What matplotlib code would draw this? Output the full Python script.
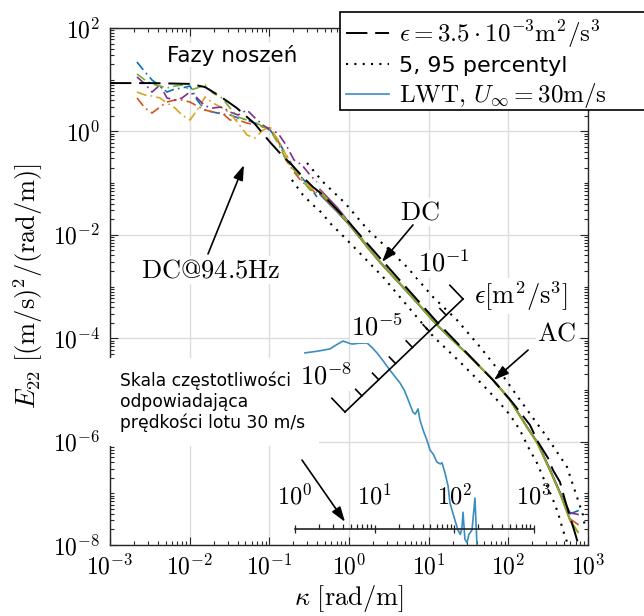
import numpy as np
import matplotlib
matplotlib.use("Agg")
import matplotlib.pyplot as plt
from matplotlib.patches import Rectangle
from matplotlib.ticker import FixedLocator, FuncFormatter, NullFormatter

plt.rcParams['mathtext.fontset'] = 'cm'
plt.rcParams['font.family'] = ['DejaVu Sans']
plt.rcParams['axes.unicode_minus'] = True

# ---------------- data ----------------
# model spectrum, eps = 3.5e-3
k_model = [1.0e-3, 3.18e-3, 0.0101, 0.0156, 0.024, 0.039, 0.066, 0.102, 0.136, 0.192,
           0.264, 0.353, 0.472, 0.944, 1.68, 2.45, 12.7, 64.1, 114, 187, 236, 315, 363,
           445, 514, 594, 687, 793]
E_model = [8.6, 8.6, 8.3, 7.2, 4.8, 2.84, 1.39, 0.62, 0.38, 0.224,
           0.131, 0.084, 0.059, 0.0193, 6.9e-3, 3.56e-3, 2.06e-4, 1.55e-5, 5.58e-6, 2.09e-6,
           9.8e-7, 4.8e-7, 2.82e-7, 1.65e-7, 7.4e-8, 3.5e-8, 1.7e-8, 8e-9]

# 5 / 95 percentile
k_p95 = [0.297, 0.472, 0.891, 1.73, 3.00, 5.35, 11.3, 22.6, 44.1, 85.7, 140, 204, 305,
         408, 545, 648, 749, 865, 917]
E_p95 = [0.245, 0.105, 0.0412, 0.0124, 5.6e-3, 2.38e-3, 6.3e-4, 2.25e-4, 6.8e-5, 1.86e-5,
         6.4e-6, 2.86e-6, 1.23e-6, 6.3e-7, 3.23e-7, 1.45e-7, 7.4e-8, 3.8e-8, 2.23e-8]
k_p05 = [0.192, 0.264, 0.353, 0.458, 0.577, 0.891, 2.67, 11.3, 24.7, 48.1, 72.1, 105, 140,
         177, 229, 289, 353, 420, 485, 545]
E_p05 = [0.115, 0.059, 0.0377, 0.0264, 0.0169, 8.7e-3, 1.53e-3, 1.10e-4, 3.47e-5, 1.24e-5,
         6.4e-6, 3.27e-6, 1.67e-6, 7.9e-7, 3.86e-7, 1.66e-7, 8.5e-8, 4.2e-8, 1.95e-8, 1.14e-8]

# measured spectra, low wavenumbers (DC @ 94.5 Hz)
k_lo = [2.18e-3, 2.75e-3, 3.37e-3, 4.24e-3, 5.19e-3, 6.54e-3, 8.0e-3, 0.0101, 0.0124, 0.0156,
        0.0196, 0.0255, 0.0321, 0.0404, 0.0525, 0.0661, 0.0832, 0.102, 0.128, 0.162,
        0.204, 0.257, 0.324, 0.396]
E_lo_blue = [22.0, 14.1, 9.86, 7.55, 5.78, 6.61, 6.90, 7.55, 4.05, 2.59, 2.37, 2.17, 2.08,
             1.82, 1.66, 1.45, 1.27, 1.06, 0.682, 0.350, 0.196, 0.126, 0.0841, 0.0538]
E_lo_green = [12.9, 9.86, 8.26, 7.55, 6.90, 7.55, 7.89, 6.32, 6.90, 7.89, 5.53, 4.43, 2.84,
              1.90, 1.66, 1.52, 1.22, 1.06, 0.597, 0.280, 0.179, 0.115, 0.0736, 0.0673]
E_lo_purple = [11.3, 8.26, 5.78, 7.89, 4.43, 4.05, 4.43, 5.78, 4.43, 3.10, 2.84, 2.96, 2.37,
               2.08, 2.59, 1.82, 1.33, 1.06, 0.931, 0.546, 0.280, 0.224, 0.143, 0.105]
E_lo_yellow = [5.78, 5.06, 4.84, 4.43, 3.54, 2.84, 2.08, 1.66, 2.59, 4.63, 3.54, 2.84, 2.27,
               1.45, 0.851, 0.745, 1.06, 1.22, 0.682, 0.350, 0.205, 0.126, 0.0841, 0.0644]
E_lo_orange = [4.43, 2.84, 2.27, 2.96, 3.70, 4.05, 4.05, 3.70, 3.10, 2.59, 2.37, 2.27, 1.66,
               1.66, 1.45, 1.33, 1.22, 1.16, 0.682, 0.280, 0.164, 0.105, 0.0841, 0.0589]

# measured spectra, high wavenumbers (DC + AC)
k_hi = [0.433, 0.707, 1.03, 1.83, 2.45, 5.83, 12.7, 28.6, 64.1, 105, 171, 229, 334, 445, 594, 749]
E_hi_green = [0.066, 0.030, 0.0155, 5.1e-3, 2.95e-3, 6.9e-4, 1.78e-4, 5.4e-5, 1.55e-5, 6.3e-6,
              1.88e-6, 9.5e-7, 2.7e-7, 9.8e-8, 3.0e-8, 1.75e-8]
E_hi_yellow = [0.070, 0.031, 0.0160, 5.2e-3, 3.0e-3, 7.0e-4, 1.80e-4, 5.5e-5, 1.57e-5, 6.4e-6,
               1.9e-6, 9.6e-7, 2.75e-7, 1.0e-7, 3.0e-8, 1.8e-8]
E_hi_blue = [0.060, 0.028, 0.0150, 5.0e-3, 2.9e-3, 6.8e-4, 1.79e-4, 5.4e-5, 1.56e-5, 6.4e-6,
             1.92e-6, 9.9e-7, 2.85e-7, 1.03e-7, 4.0e-8, 4.6e-8]
E_hi_purple = [0.075, 0.034, 0.0165, 5.3e-3, 3.05e-3, 7.1e-4, 1.83e-4, 5.5e-5, 1.58e-5, 6.5e-6,
               1.95e-6, 1.0e-6, 2.9e-7, 1.05e-7, 4.2e-8, 3.9e-8]
E_hi_orange = [0.063, 0.029, 0.0152, 5.0e-3, 2.95e-3, 6.9e-4, 1.81e-4, 5.45e-5, 1.57e-5, 6.45e-6,
               1.9e-6, 9.7e-7, 2.8e-7, 1.0e-7, 3.2e-8, 2.5e-8]

# LWT, U = 30 m/s
k_lwt = [0.28, 0.40, 0.577, 0.70, 0.84, 1.09, 1.35, 1.68, 1.95, 2.24, 2.7, 3.27, 3.9, 4.37,
         5.0, 5.35, 6.36, 6.8, 7.35, 7.78, 8.6, 9.5, 10.4, 11.5, 12.7, 14.0, 14.7, 16.0, 17.5,
         18.5, 21.4, 23.3, 25.0, 26.2, 27.0, 28.5, 30.3, 32.0, 35.0, 38.1, 40.4, 42.0]
E_lwt = [5.2e-5, 5.6e-5, 6.2e-5, 7.5e-5, 8.8e-5, 7.7e-5, 8.0e-5, 8.1e-5, 6.6e-5, 5.2e-5, 3.6e-5,
         2.4e-5, 1.7e-5, 1.36e-5, 9.5e-6, 7.3e-6, 3.7e-6, 3.4e-6, 4.3e-6, 2.6e-6, 1.6e-6, 1.07e-6,
         6.9e-7, 5.6e-7, 4.0e-7, 3.7e-7, 3.9e-7, 2.5e-7, 1.4e-7, 6.5e-8, 3.0e-8, 1.95e-8, 1.6e-8,
         2.2e-8, 4.3e-8, 1.3e-8, 1.1e-8, 1.6e-8, 1.95e-8, 8.1e-8, 1.0e-8, 3e-9]

# frequency scale (flight speed 30 m/s)
U_flight = 30.0
f_decades = [1, 10, 100, 1000]
f_labels = [r'$10^{0}$', r'$10^{1}$', r'$10^{2}$', r'$10^{3}$']
E_fbar = 2.04e-8

# epsilon scale
eps_exponents = [-8, -7, -6, -5, -4, -3, -2, -1]
eps_labeled = {-8: r'$10^{-8}$', -5: r'$10^{-5}$', -1: r'$10^{-1}$'}
eps_start = (0.891, 3.74e-6)
eps_end = (27.0, 5.73e-4)

# colours
c_blue = '#0072BD'
c_orange = '#D95319'
c_yellow = '#D9A520'
c_purple = '#7E2F8E'
c_green = '#77AC30'
c_lwt = '#3A8DBE'

# ---------------- figure ----------------
W, H = 644, 616
fig = plt.figure(figsize=(W / 100, H / 100), dpi=100)
ax = fig.add_axes([110 / W, 71 / H, 478 / W, 517 / H])
ax.set_xscale('log')
ax.set_yscale('log')
ax.set_xlim(1e-3, 1e3)
ax.set_ylim(1e-8, 1e2)

fmt = FuncFormatter(lambda v, p: r'$10^{%d}$' % int(round(np.log10(v))))
ax.xaxis.set_major_locator(FixedLocator(10.0 ** np.arange(-3, 4)))
ax.xaxis.set_minor_locator(FixedLocator([m * 10.0 ** k for k in range(-3, 3) for m in range(2, 10)]))
ax.yaxis.set_major_locator(FixedLocator(10.0 ** np.arange(-8, 3, 2)))
ax.yaxis.set_minor_locator(FixedLocator([m * 10.0 ** k for k in range(-8, 2) for m in range(1, 10)
                                         if not (m == 1 and k % 2 == 0)]))
ax.xaxis.set_major_formatter(fmt)
ax.yaxis.set_major_formatter(fmt)
ax.xaxis.set_minor_formatter(NullFormatter())
ax.yaxis.set_minor_formatter(NullFormatter())
ax.tick_params(which='both', direction='in', top=True, right=True, width=0.8, color='#262626',
               labelsize=17)
ax.tick_params(which='major', length=6, pad=7)
ax.tick_params(which='minor', length=3)
for s in ax.spines.values():
    s.set_linewidth(1.0)
    s.set_color('#262626')
ax.grid(True, which='major', color='#dcdcdc', lw=1.0)
ax.set_axisbelow(True)

ax.set_xlabel(r'$\kappa\ [\mathrm{rad/m}]$', fontsize=19, labelpad=2)
ax.set_ylabel(r'$E_{22}\ [(\mathrm{m/s})^2/(\mathrm{rad/m})]$', fontsize=19, labelpad=6)

# curves
l_lwt, = ax.plot(k_lwt, E_lwt, color=c_lwt, lw=1.2, zorder=3,
                 label=r'$\mathrm{LWT},\,U_\infty = 30\mathrm{m/s}$')
dot = (0, (1, 3))
l_p, = ax.plot(k_p95, E_p95, color='k', lw=1.5, ls=dot, zorder=3, label='5, 95 percentyl')
ax.plot(k_p05, E_p05, color='k', lw=1.5, ls=dot, zorder=3)

dashdot = (0, (6, 2.5, 1, 2.5))
for E, c in [(E_lo_blue, c_blue), (E_lo_orange, c_orange), (E_lo_yellow, c_yellow),
             (E_lo_purple, c_purple), (E_lo_green, c_green)]:
    ax.plot(k_lo, E, color=c, lw=1.2, ls=dashdot, zorder=4)
for E, c in [(E_hi_blue, c_blue), (E_hi_orange, c_orange), (E_hi_purple, c_purple),
             (E_hi_yellow, c_yellow), (E_hi_green, c_green)]:
    ax.plot(k_hi, E, color=c, lw=1.2, zorder=4)

l_m, = ax.plot(k_model, E_model, color='k', lw=1.4, dashes=(11, 4), zorder=5,
               label=r'$\epsilon = 3.5\cdot10^{-3}\mathrm{m}^2/\mathrm{s}^3$')

# frequency bar
k_f = [2 * np.pi * f / U_flight for f in f_decades]
ax.plot([k_f[0], k_f[-1]], [E_fbar, E_fbar], color='#222222', lw=1.2, zorder=6)
minor_f = [m * f for f in f_decades[:-1] for m in range(2, 10)]
ax.plot([2 * np.pi * f / U_flight for f in minor_f], [E_fbar] * len(minor_f), ls='none',
        marker=2, ms=3.5, mew=0.9, color='#222222', zorder=6)
ax.plot(k_f, [E_fbar] * len(k_f), ls='none', marker='|', ms=6, mew=0.9, color='#222222', zorder=6)
for kf, lab in zip(k_f, f_labels):
    ax.annotate(lab, (kf, E_fbar), xytext=(0, 23), textcoords='offset points',
                ha='center', va='center', fontsize=17.5, zorder=7)

# epsilon scale
fig.canvas.draw()
P = ax.transData.transform(eps_start)
Q = ax.transData.transform(eps_end)
d = (Q - P) / np.linalg.norm(Q - P)
nrm = np.array([-d[1], d[0]])
inv = ax.transData.inverted()
n_int = len(eps_exponents) - 1
line = inv.transform(np.vstack([P, Q]))
ax.plot(line[:, 0], line[:, 1], color='k', lw=1.2, zorder=6)
for i, e in enumerate(eps_exponents):
    base = P + (Q - P) * i / n_int
    L = 19 if i in (0, n_int) else 9
    seg = inv.transform(np.vstack([base, base + nrm * L]))
    ax.plot(seg[:, 0], seg[:, 1], color='k', lw=1.2, zorder=6)
    if e in eps_labeled:
        pos = inv.transform(base + np.array([-19, 35]))
        ax.text(pos[0], pos[1], eps_labeled[e], fontsize=19, ha='center', va='center', zorder=7,
                bbox=dict(fc='white', ec='none', pad=0.5))
pos = inv.transform(Q + np.array([58, 3]))
ax.text(pos[0], pos[1], r'$\epsilon[\mathrm{m}^2/\mathrm{s}^3]$', fontsize=19, ha='center',
        va='center', zorder=7, bbox=dict(fc='white', ec='none', pad=0.5))

# annotations
arrow = dict(arrowstyle='-|>,head_length=0.6,head_width=0.2', lw=1.2, color='k',
             shrinkA=0, shrinkB=0, mutation_scale=15)
ax.text(0.034, 30, 'Fazy noszeń', fontsize=15.5, ha='center', va='center', zorder=7,
        bbox=dict(fc='white', ec='none', pad=1))
ax.text(0.018, 2.08e-3, r'$\mathrm{DC@94.5Hz}$', fontsize=19, ha='center', va='center', zorder=7,
        bbox=dict(fc='white', ec='none', pad=1))
ax.annotate('', xy=(0.048, 0.224), xytext=(0.017, 4.26e-3), arrowprops=arrow, zorder=7)
ax.text(7.78, 0.0276, r'$\mathrm{DC}$', fontsize=19, ha='center', va='center', zorder=7,
        bbox=dict(fc='white', ec='none', pad=1))
ax.annotate('', xy=(2.59, 2.98e-3), xytext=(6.35, 0.0155), arrowprops=arrow, zorder=7)
ax.text(408, 1.26e-4, r'$\mathrm{AC}$', fontsize=19, ha='center', va='center', zorder=7,
        bbox=dict(fc='white', ec='none', pad=1))
ax.annotate('', xy=(66, 1.55e-5), xytext=(177, 5.9e-5), arrowprops=arrow, zorder=7)
ax.text(1.335e-3, 5.8e-6, 'Skala częstotliwości\nodpowiadająca\nprędkości lotu 30 m/s',
        fontsize=12.3, ha='left', va='center', linespacing=1.2, zorder=6,
        bbox=dict(fc='white', ec='none', pad=10))
ax.annotate('', xy=(0.891, 2.8e-8), xytext=(0.257, 4.4e-7), arrowprops=arrow, zorder=7)

# legend: entries without frame; a white framed box behind them runs past the right edge
leg = fig.legend(handles=[l_m, l_p, l_lwt], loc='upper left',
                 bbox_to_anchor=(340 / W, 1 - 12 / H), bbox_transform=fig.transFigure,
                 fontsize=18, frameon=False, borderpad=0.25, handlelength=1.7,
                 handletextpad=0.4, labelspacing=0.2, borderaxespad=0)
leg.get_texts()[1].set_fontsize(16)
leg.set_zorder(10)
fig.canvas.draw()
bb = leg.get_window_extent().transformed(fig.transFigure.inverted())
frame = Rectangle((bb.x0, bb.y0 + 7 / H), 0.6, bb.height - 7 / H, transform=fig.transFigure,
                  facecolor='white', edgecolor='black', lw=1.2, zorder=9, clip_on=False)
fig.add_artist(frame)

fig.savefig('out.png', dpi=100)
